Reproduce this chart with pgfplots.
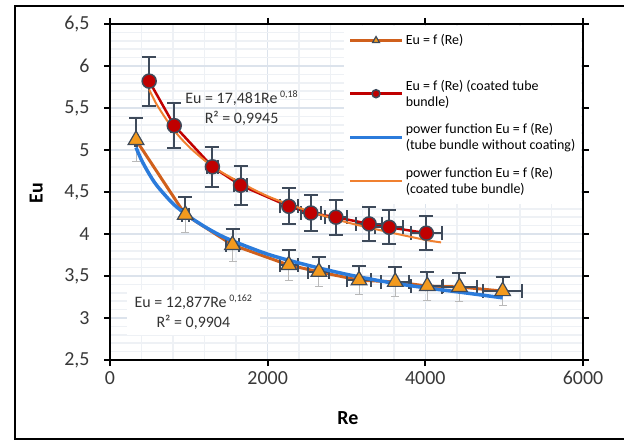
\documentclass[border=0pt]{standalone}
\usepackage{fontspec}
\setmainfont{Carlito}
\usepackage{pgfplots}
\pgfplotsset{compat=1.18}
\definecolor{slate}{HTML}{3E4A5A}
\definecolor{brn}{HTML}{D0601C}
\definecolor{tri}{HTML}{F39A1E}
\definecolor{redc}{HTML}{C00000}
\definecolor{bluef}{HTML}{2B7BDB}
\definecolor{orgf}{HTML}{F08030}
\definecolor{gmaj}{HTML}{DCE3EC}
\definecolor{gmin}{HTML}{EEF1F5}

\begin{document}
\begin{tikzpicture}
\useasboundingbox (0,0) rectangle (624bp,441bp);
\draw[black, line width=1.2bp] (624bp,2bp) -- (15bp,2bp) -- (15bp,435bp) -- (624bp,435bp);
\begin{axis}[at={(110bp,81bp)}, anchor=south west, scale only axis,
    width=473bp, height=336bp,
    xmin=0, xmax=6000, ymin=2.5, ymax=6.5,
    xtick={0,2000,4000,6000}, ytick={2.5,3,3.5,4,4.5,5,5.5,6,6.5},
    minor x tick num=4, minor y tick num=4,
    grid=both, major grid style={gmaj, line width=1.5bp}, minor grid style={gmin, line width=1.5bp},
    axis line style={line width=2.4bp},
    tick style={black, line width=2bp}, tick align=outside,
    major tick length=6bp, minor tick length=0pt,
    /pgf/number format/use comma, /pgf/number format/1000 sep={},
    /pgf/number format/assume math mode=true,
    tick label style={font=\fontsize{20}{24}\selectfont, text=black!78},
    yticklabel style={xshift=-11bp},
    xticklabel style={yshift=-2bp},
    xlabel={Re}, ylabel={Eu},
    label style={font=\fontsize{20}{24}\selectfont\bfseries},
    xlabel style={at={(axis description cs:0.503,-0.173)}, anchor=center},
    ylabel style={at={(axis description cs:-0.156,0.497)}, anchor=center},
    legend cell align=left,
    legend style={at={(1,1)}, anchor=north east, xshift=-1.5bp, yshift=-1.5bp,
      draw=none, fill=white, font=\fontsize{14}{16}\selectfont,
      inner xsep=4bp, inner ysep=7bp, row sep=12bp,
      nodes={inner sep=2bp}, cells={align=left}},
    legend image code/.code={\draw[mark repeat=2, mark phase=2, #1, mark size=4bp]
      plot coordinates {(0bp,0bp)(26bp,0bp)(52bp,0bp)};},
  ]
  % lower halves of the error bars of the uncoated bundle
  \addplot[forget plot, only marks, mark=none,
    error bars/.cd, y dir=minus, y fixed relative=0.05,
    error bar style={gray!55, line width=1bp},
    error mark options={rotate=90, gray!55, line width=1bp, mark size=4bp}]
    coordinates {(330,5.12)(955,4.23)(1554,3.87)(2268,3.63)(2650,3.55)
                 (3159,3.45)(3618,3.43)(4025,3.38)(4433,3.37)(4981,3.32)};
  % tube bundle without coating
  \addplot[brn, line width=3bp, mark=triangle*, mark size=9bp,
    mark options={fill=tri, draw=slate, line width=1.2bp},
    error bars/.cd, y dir=plus, y fixed relative=0.05,
    x dir=both, x fixed relative=0.05,
    error bar style={slate, line width=2bp},
    error mark options={rotate=90, slate, line width=2bp, mark size=7bp}]
    coordinates {(330,5.12)(955,4.23)(1554,3.87)(2268,3.63)(2650,3.55)
                 (3159,3.45)(3618,3.43)(4025,3.38)(4433,3.37)(4981,3.32)};
  \addlegendentry{Eu = f (Re)}
  \addlegendimage{empty legend}
  \addlegendentry{}
  % coated tube bundle
  \addplot[redc, line width=2.5bp, mark=*, mark size=7bp,
    mark options={fill=redc, draw=slate, line width=1.5bp},
    error bars/.cd, y dir=both, y fixed relative=0.05,
    x dir=both, x fixed relative=0.05,
    error bar style={slate, line width=2bp},
    error mark options={rotate=90, slate, line width=2bp, mark size=7bp}]
    coordinates {(497,5.82)(815,5.29)(1299,4.80)(1656,4.58)(2268,4.33)
                 (2548,4.25)(2866,4.20)(3287,4.12)(3541,4.08)(4013,4.01)};
  \addlegendentry{Eu = f (Re) (coated tube\\bundle)}
  % power trend lines
  \addplot[bluef, line width=3.5bp, smooth, mark=none]
    coordinates {(330,5.03)(400,4.88)(500,4.71)(600,4.57)(800,4.36)(1000,4.21)
                 (1250,4.06)(1500,3.94)(2000,3.76)(2500,3.63)(3000,3.52)
                 (3500,3.43)(4000,3.36)(4500,3.30)(4981,3.24)};
  \addlegendentry{power function Eu = f (Re)\\(tube bundle without coating)}
  \addplot[orgf, line width=2bp, smooth, mark=none]
    coordinates {(497,5.72)(600,5.53)(800,5.25)(1000,5.04)(1250,4.84)(1500,4.69)
                 (2000,4.45)(2500,4.28)(3000,4.14)(3500,4.03)(4000,3.93)(4200,3.90)};
  \addlegendentry{power function Eu = f (Re)\\(coated tube bundle)}
  \node[font=\fontsize{16}{20}\selectfont, align=center, text=black!80]
    at (axis cs:1669,5.5)
    {Eu = 17,481Re\,\raisebox{0.8ex}{\fontsize{10}{10}\selectfont 0,18}\\R² = 0,9945};
  \node[font=\fontsize{16}{20}\selectfont, align=center, text=black!80, fill=white,
    inner xsep=8bp, inner ysep=5bp]
    at (axis cs:1057,3.07)
    {Eu = 12,877Re\,\raisebox{0.8ex}{\fontsize{10}{10}\selectfont 0,162}\\R² = 0,9904};
\end{axis}
\end{tikzpicture}
\end{document}
